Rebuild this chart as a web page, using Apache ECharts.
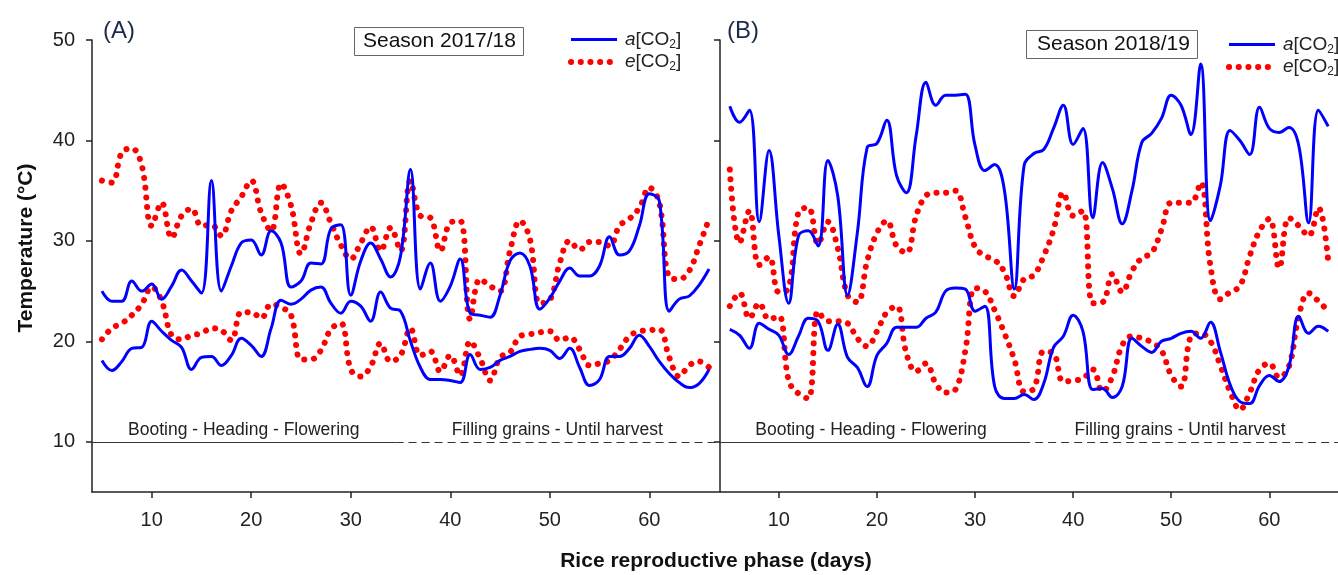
<!DOCTYPE html>
<html>
<head>
<meta charset="utf-8">
<title>Temperature - rice reproductive phase</title>
<script src="https://cdn.jsdelivr.net/npm/echarts@6/dist/echarts.min.js"></script>
<style>
  html, body { margin: 0; padding: 0; background: #fff; }
  #main { width: 1338px; height: 575px; }
</style>
</head>
<body>
<div id="main"></div>
<script>
// days after start of the reproductive phase
const days = [
  5, 6, 7, 8, 9, 10, 11, 12, 13, 14,
  15, 16, 17, 18, 19, 20, 21, 22, 23, 24,
  25, 26, 27, 28, 29, 30, 31, 32, 33, 34,
  35, 36, 37, 38, 39, 40, 41, 42, 43, 44,
  45, 46, 47, 48, 49, 50, 51, 52, 53, 54,
  55, 56, 57, 58, 59, 60, 61, 62, 63, 64,
  65, 66
]

// (A) season 2017/18
const aMaxA = [
  25.0, 24.0, 24.0, 26.0, 25.0, 25.7, 24.2, 25.5, 27.1, 26.0,
  24.8, 36.0, 25.0, 27.5, 29.8, 30.1, 28.6, 31.0, 29.8, 25.4,
  26.0, 27.8, 27.7, 31.2, 31.6, 24.6, 28.0, 29.8, 28.2, 26.4,
  28.5, 37.1, 25.2, 27.8, 24.0, 25.5, 28.2, 22.8, 22.6, 22.4,
  24.6, 28.0, 28.8, 27.5, 23.2, 24.3, 26.0, 27.3, 26.5, 26.5,
  27.5, 30.4, 28.6, 29.0, 31.5, 34.7, 34.0, 23.0, 24.2, 24.5,
  25.6, 27.2
]
const aMinA = [
  18.1, 17.1, 18.0, 19.3, 19.4, 22.0, 21.0, 20.1, 19.4, 17.2,
  18.4, 18.5, 17.6, 18.6, 20.3, 19.6, 18.5, 21.3, 24.1, 23.7,
  24.2, 25.1, 25.4, 23.8, 22.8, 24.0, 23.5, 22.0, 24.9, 23.3,
  23.0, 20.0, 17.4, 16.2, 16.2, 16.1, 15.9, 18.7, 17.2, 17.4,
  18.1, 18.5, 19.0, 19.2, 19.3, 19.1, 18.3, 19.3, 17.4, 15.6,
  16.2, 18.5, 18.5, 19.3, 20.6, 19.5, 18.0, 16.8, 15.9, 15.4,
  15.8, 17.2
]
const eMaxA = [
  36.0, 35.8, 38.8, 39.2, 37.5, 31.5, 33.8, 30.3, 32.5, 33.2,
  31.5, 31.6, 30.5, 33.0, 34.4, 36.0, 32.8, 31.0, 35.7, 33.5,
  28.7, 31.8, 33.8, 31.8, 29.6, 28.2, 29.8, 31.4, 29.0, 31.3,
  29.0, 36.0, 32.5, 32.3, 29.0, 31.8, 32.0, 22.2, 26.2, 25.5,
  25.0, 29.0, 32.0, 30.2, 23.8, 24.1, 27.8, 30.0, 29.1, 29.9,
  29.9, 29.5, 31.5, 32.2, 33.3, 35.3, 33.8, 26.4, 26.2, 27.0,
  29.5, 32.2
]
const eMinA = [
  20.2, 21.3, 21.8, 22.6, 23.7, 25.4, 24.0, 20.6, 20.2, 20.6,
  20.8, 21.3, 21.1, 20.1, 22.9, 22.9, 22.3, 23.7, 23.4, 22.6,
  18.2, 18.2, 19.1, 21.2, 21.8, 17.2, 16.5, 17.5, 19.8, 18.0,
  18.6, 21.3, 18.6, 19.0, 17.0, 18.6, 16.6, 20.0, 18.3, 16.1,
  18.4, 18.9, 20.5, 20.7, 20.9, 21.0, 20.1, 20.4, 19.2, 17.6,
  17.8, 18.1, 19.2, 20.5, 21.0, 21.1, 21.2, 18.4, 16.5, 17.6,
  18.0, 17.4
]

// (B) season 2018/19
const aMaxB = [
  43.4, 41.8, 43.0, 31.9, 39.0, 30.5, 23.8, 30.5, 31.0, 29.5,
  38.0, 34.5, 24.6, 30.8, 39.3, 39.7, 42.0, 36.5, 34.8, 40.5,
  45.8, 43.5, 44.5, 44.5, 44.6, 39.5, 37.0, 37.6, 35.0, 25.2,
  37.5, 38.7, 39.1, 41.2, 43.5, 39.6, 41.2, 32.3, 37.8, 35.2,
  31.7, 35.0, 39.8, 40.7, 42.2, 44.5, 43.5, 40.6, 47.6, 32.0,
  35.5, 41.0, 40.0, 38.6, 43.3, 41.2, 40.8, 41.3, 39.5, 31.8,
  43.0, 41.4
]
const aMinB = [
  21.2, 20.6, 19.3, 21.8, 21.2, 20.6, 18.7, 20.5, 22.3, 22.0,
  19.1, 21.7, 18.4, 17.4, 15.5, 18.6, 19.8, 21.4, 21.4, 21.4,
  22.3, 22.9, 25.0, 25.3, 25.2, 23.0, 23.5, 15.5, 14.3, 14.3,
  14.7, 14.2, 15.8, 19.4, 20.5, 22.6, 21.0, 15.2, 15.3, 14.4,
  15.5, 20.3, 19.5, 18.9, 20.0, 20.3, 20.8, 21.0, 20.3, 21.9,
  19.0, 15.7, 14.0, 13.8, 15.6, 16.6, 16.0, 17.5, 22.5, 20.8,
  21.5, 21.0
]
const eMaxB = [
  37.1, 29.8, 33.0, 27.6, 28.4, 24.9, 25.3, 32.9, 33.3, 29.7,
  31.9, 29.3, 24.6, 23.9, 28.0, 30.8, 32.0, 29.5, 28.8, 32.5,
  34.5, 34.8, 34.8, 35.0, 32.4, 29.4, 28.5, 28.1, 26.9, 24.5,
  26.2, 26.6, 28.5, 31.1, 34.8, 32.5, 33.0, 23.8, 23.9, 26.7,
  24.9, 27.0, 28.3, 28.8, 31.1, 33.8, 33.8, 33.8, 35.8, 27.5,
  24.2, 24.9, 25.5, 28.5, 31.0, 32.2, 27.3, 32.3, 31.5, 30.5,
  33.3, 28.0
]
const eMinB = [
  23.5, 24.8, 22.3, 23.8, 22.2, 22.5, 16.1, 14.8, 14.3, 23.0,
  22.0, 22.0, 21.8, 20.3, 19.5, 21.0, 22.9, 23.5, 18.8, 17.0,
  17.8, 15.8, 14.9, 15.2, 19.0, 25.3, 25.0, 23.1, 20.8, 18.2,
  15.0, 15.3, 19.0, 18.8, 16.0, 16.1, 16.3, 17.2, 15.0, 16.5,
  19.6, 20.5, 20.3, 19.9, 19.1, 16.6, 15.5, 20.5, 20.8, 20.0,
  17.6, 15.0, 13.2, 14.9, 17.2, 17.8, 16.4, 17.5, 22.5, 24.8,
  24.0, 23.0
]

const xTicks = [10, 20, 30, 40, 50, 60]
const yTicks = [10, 20, 30, 40, 50]
const phaseNames = ['Booting - Heading - Flowering', 'Filling grains - Until harvest']
const phaseLevel = 10
const phaseSplit = [34.5, 34.8]
const seasons = ['Season 2017/18', 'Season 2018/19']

const font = '"Liberation Sans", Arial, sans-serif'
const axisColor = '#222'
const blue = '#0000ff'
const red = '#ff0000'

function xAxisFor(i) {
  return {
    type: 'value',
    gridIndex: i,
    min: 4,
    max: 67,
    axisLine: { show: true, lineStyle: { color: axisColor, width: 1.5 } },
    axisTick: { show: true, customValues: xTicks, length: 6, lineStyle: { color: axisColor, width: 1.5 } },
    axisLabel: { customValues: xTicks, fontSize: 20, color: axisColor, margin: 18, fontFamily: font },
    splitLine: { show: false },
  }
}

function yAxisFor(i) {
  return {
    type: 'value',
    gridIndex: i,
    min: 5,
    max: 50,
    axisLine: { show: true, lineStyle: { color: axisColor, width: 1.5 } },
    axisTick: { show: true, customValues: yTicks, length: 6, lineStyle: { color: axisColor, width: 1.5 } },
    axisLabel: { show: i === 0, customValues: yTicks, fontSize: 20, color: axisColor, margin: 17, fontFamily: font },
    splitLine: { show: false },
  }
}

function phaseMarks(i) {
  return {
    silent: true,
    symbol: 'none',
    animation: false,
    lineStyle: { color: '#333', width: 1 },
    label: {
      position: 'insideMiddleTop',
      distance: 3,
      formatter: '{b}',
      fontSize: 17.5,
      color: axisColor,
      fontFamily: font,
    },
    data: [
      [
        { name: phaseNames[0], coord: [4, phaseLevel], lineStyle: { type: 'solid' } },
        { coord: [phaseSplit[i], phaseLevel] },
      ],
      [
        { name: phaseNames[1], coord: [phaseSplit[i], phaseLevel], lineStyle: { type: [8, 5] } },
        { coord: [67, phaseLevel] },
      ],
    ],
  }
}

function lineSeries(name, values, i, dotted) {
  const color = dotted ? red : blue
  return {
    name: name,
    type: 'line',
    xAxisIndex: i,
    yAxisIndex: i,
    data: days.map((d, k) => [d, values[k]]),
    smooth: 0.4,
    symbol: 'none',
    lineStyle: dotted
      ? { color: color, width: 6, type: [0.1, 9.6], cap: 'round' }
      : { color: color, width: 3 },
    itemStyle: { color: color },
    z: dotted ? 2 : 3,
    animation: false,
  }
}

const chart = echarts.init(document.getElementById('main'))

const legendText = {
  fontSize: 19,
  color: axisColor,
  fontFamily: font,
  padding: [0, 0, 0, 3],
  rich: {
    i: { fontStyle: 'italic', fontSize: 19, fontFamily: font, color: axisColor, lineHeight: 22 },
    n: { fontSize: 19, fontFamily: font, color: axisColor, lineHeight: 22 },
    s: { fontSize: 12, fontFamily: font, color: axisColor, lineHeight: 22, verticalAlign: 'bottom' },
  },
}
const legendFormat = (name) => '{i|' + name.charAt(0) + '}{n|[CO}{s|2}{n|]}'

function legendFor(left, top) {
  return {
    left: left,
    top: top,
    orient: 'vertical',
    itemWidth: 46,
    itemHeight: 14,
    itemGap: 2,
    data: ['a[CO2]', 'e[CO2]'],
    formatter: legendFormat,
    textStyle: legendText,
    itemStyle: { opacity: 0 },
    lineStyle: { width: 'inherit', type: 'inherit', cap: 'inherit' },
  }
}

const seriesA = [
  lineSeries('a[CO2]', aMaxA, 0, false),
  lineSeries('a[CO2]', aMinA, 0, false),
  lineSeries('e[CO2]', eMaxA, 0, true),
  lineSeries('e[CO2]', eMinA, 0, true),
]
seriesA[0].markLine = phaseMarks(0)
const seriesB = [
  lineSeries('a[CO2]', aMaxB, 1, false),
  lineSeries('a[CO2]', aMinB, 1, false),
  lineSeries('e[CO2]', eMaxB, 1, true),
  lineSeries('e[CO2]', eMinB, 1, true),
]
seriesB[0].markLine = phaseMarks(1)

const option = {
  backgroundColor: '#fff',
  animation: false,
  title: [
    { text: '(A)', left: 103, top: 19, padding: 0, textStyle: { fontSize: 24, fontWeight: 'normal', color: '#1c2a4a', fontFamily: font } },
    { text: '(B)', left: 727, top: 19, padding: 0, textStyle: { fontSize: 24, fontWeight: 'normal', color: '#1c2a4a', fontFamily: font } },
    {
      text: seasons[0], left: 354, top: 27, padding: [4, 8, 4, 9],
      borderColor: '#666', borderWidth: 1,
      textStyle: { fontSize: 21, fontWeight: 'normal', color: '#111', fontFamily: font },
    },
    {
      text: seasons[1], left: 1026, top: 30, padding: [4, 8, 4, 11],
      borderColor: '#666', borderWidth: 1,
      textStyle: { fontSize: 21, fontWeight: 'normal', color: '#111', fontFamily: font },
    },
  ],
  legend: [legendFor(563, 25), legendFor(1221, 30)],
  grid: [
    { left: 92, top: 40, width: 627, height: 452 },
    { left: 720, top: 40, width: 627, height: 452 },
  ],
  xAxis: [xAxisFor(0), xAxisFor(1)],
  yAxis: [yAxisFor(0), yAxisFor(1)],
  graphic: [
    {
      type: 'text', x: 26, y: 248, rotation: Math.PI / 2,
      style: { text: 'Temperature (°C)', fontSize: 21, fontWeight: 'bold', fontFamily: font, fill: '#111', align: 'center', verticalAlign: 'middle' },
    },
    {
      type: 'text', x: 716, y: 561,
      style: { text: 'Rice reproductive phase (days)', fontSize: 21, fontWeight: 'bold', fontFamily: font, fill: '#111', align: 'center', verticalAlign: 'middle' },
    },
  ],
  series: seriesA.concat(seriesB),
}

chart.setOption(option)
</script>
</body>
</html>
